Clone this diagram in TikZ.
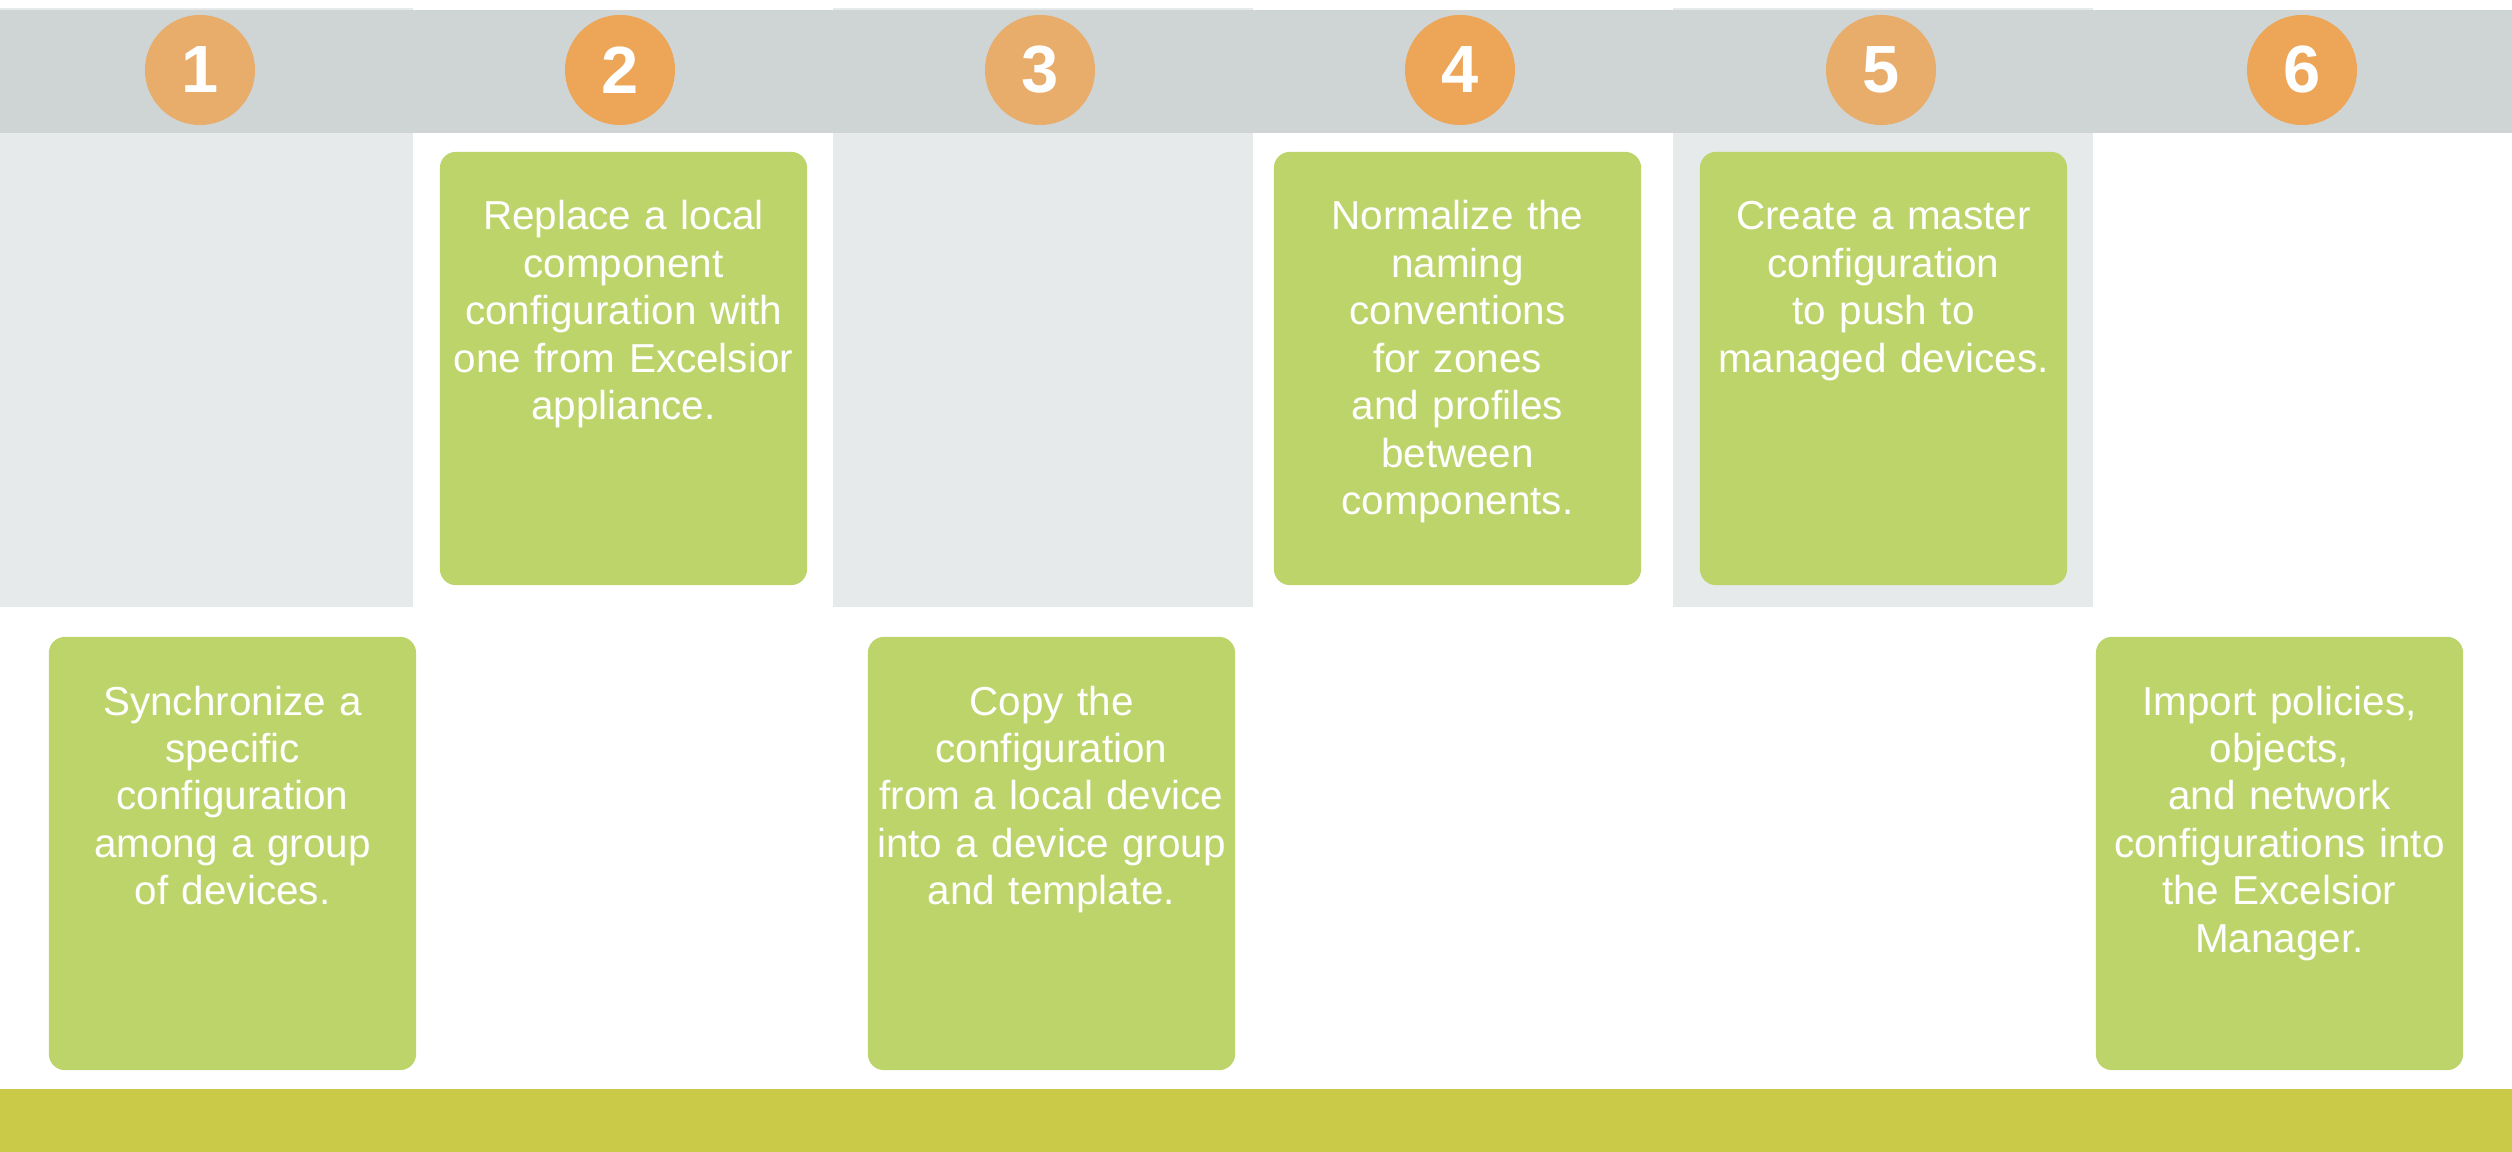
\documentclass[tikz,border=0pt]{standalone}
\usepackage{fontspec}
\setmainfont{Liberation Sans}
\definecolor{bandgray}{HTML}{CFD5D5}
\definecolor{colgray}{HTML}{E6EAEA}
\definecolor{cardgreen}{HTML}{BDD46B}
\definecolor{discsoft}{HTML}{E8AC6B}
\definecolor{discdeep}{HTML}{EDA558}
\definecolor{baseolive}{HTML}{CAC948}
\begin{document}
\begin{tikzpicture}[x=0.01cm,y=-0.01cm,
  card/.style={rectangle, rounded corners=0.16cm, fill=cardgreen, draw=none,
    minimum width=3.67cm, minimum height=4.33cm, inner sep=0},
  cardtext/.style={anchor=base, text width=3.6cm, align=center, text=white,
    inner sep=0, font=\fontsize{11.5}{13.5}\selectfont},
  numdisc/.style={circle, minimum size=1.1cm, inner sep=0, draw=none, text=white,
    font=\bfseries\fontsize{19}{19}\selectfont},
]
\useasboundingbox (0,0) rectangle (2512,1152);
\fill[white] (0,0) rectangle (2512,1152);

% shaded background of the odd columns
\fill[colgray] (0,8) rectangle (413,607);
\fill[colgray] (833,8) rectangle (1253,607);
\fill[colgray] (1673,8) rectangle (2093,607);

% header band and bottom bar
\fill[bandgray] (0,10) rectangle (2512,133);
\fill[baseolive] (0,1089) rectangle (2512,1152);

% step numbers
\node[numdisc, fill=discsoft] (n1) at (200,70)  {1};
\node[numdisc, fill=discdeep] (n2) at (620,70)  {2};
\node[numdisc, fill=discsoft] (n3) at (1040,70) {3};
\node[numdisc, fill=discdeep] (n4) at (1460,70) {4};
\node[numdisc, fill=discsoft] (n5) at (1881,70) {5};
\node[numdisc, fill=discdeep] (n6) at (2302,70) {6};

% cards: upper row (2, 4, 5) and lower row (1, 3, 6)
\node[card] (c1) at (232.5,853.5)  {};
\node[card] (c2) at (623.5,368.5)  {};
\node[card] (c3) at (1051.5,853.5) {};
\node[card] (c4) at (1457.5,368.5) {};
\node[card] (c5) at (1883.5,368.5) {};
\node[card] (c6) at (2279.5,853.5) {};

\node[cardtext] (t1) at (232.5,715) {Synchronize a\\specific\\configuration\\among a group\\of devices.};
\node[cardtext] (t2) at (623.5,230) {Replace a local\\component\\configuration with\\one from Excelsior\\appliance.};
\node[cardtext] (t3) at (1051.5,715) {Copy the\\configuration\\from a local device\\into a device group\\and template.};
\node[cardtext] (t4) at (1457.5,230) {Normalize the\\naming\\conventions\\for zones\\and profiles\\between\\components.};
\node[cardtext] (t5) at (1883.5,230) {Create a master\\configuration\\to push to\\managed devices.};
\node[cardtext] (t6) at (2279.5,715) {Import policies,\\objects,\\and network\\configurations into\\the Excelsior\\Manager.};
\end{tikzpicture}
\end{document}
